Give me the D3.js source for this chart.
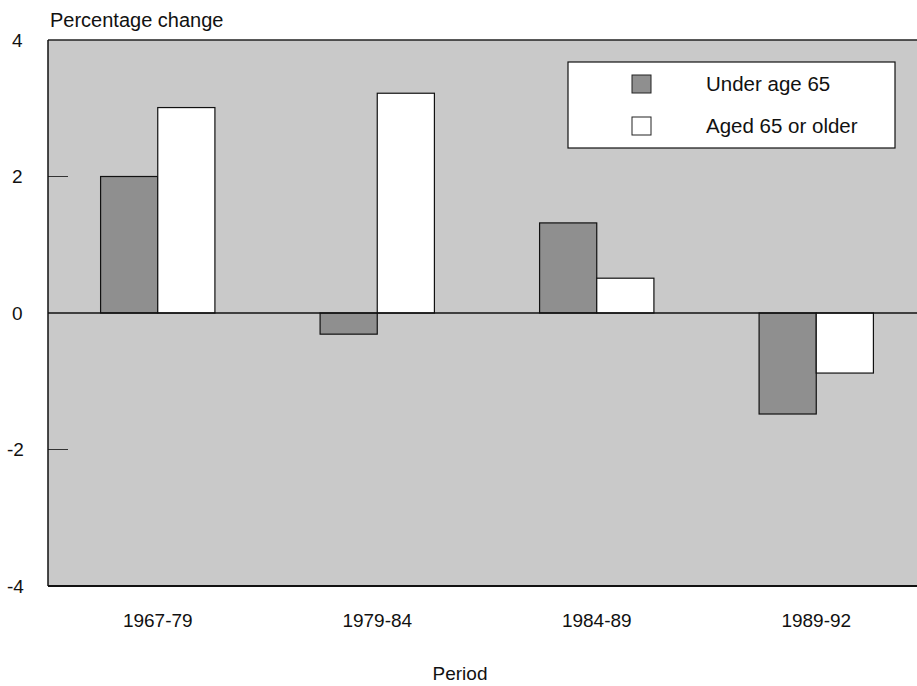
<!DOCTYPE html>
<html>
<head>
<meta charset="utf-8">
<script src="https://cdn.jsdelivr.net/npm/d3@7"></script>
<style>
  body { margin: 0; background: #fff; }
  svg { display: block; font-family: Arial, "Liberation Sans", sans-serif; }
</style>
</head>
<body>
<svg id="chart" width="917" height="686"></svg>
<script>
const categories = ["1967-79", "1979-84", "1984-89", "1989-92"];
const seriesNames = ["Under age 65", "Aged 65 or older"];
const underAge65 = [2.0, -0.31, 1.32, -1.48];
const aged65Plus = [3.01, 3.22, 0.51, -0.88];
const yTicks = [4, 2, 0, -2, -4];

const svg = d3.select("#chart");
const W = 917;
const x0 = 48, x1 = 926, yTop = 40, yBot = 586;

const x = d3.scaleBand().domain(categories).range([x0, x1]).paddingInner(0).paddingOuter(0);
const y = d3.scaleLinear().domain([-4, 4]).range([yBot, yTop]);
const sub = d3.scaleBand().domain(seriesNames).range([0, x.bandwidth()]).paddingInner(0).paddingOuter(0.92);

const colors = { "Under age 65": "#8f8f8f", "Aged 65 or older": "#ffffff" };

// plot background
svg.append("rect").attr("x", x0).attr("y", yTop).attr("width", W - x0).attr("height", yBot - yTop)
  .attr("fill", "#c9c9c9");

// short inner ticks
svg.append("g").selectAll("line").data(yTicks.filter(d => d !== 0 && Math.abs(d) !== 4)).join("line")
  .attr("x1", x0).attr("x2", x0 + 20).attr("y1", d => y(d)).attr("y2", d => y(d))
  .attr("stroke", "#333").attr("stroke-width", 1);

// bars
const data = [];
categories.forEach((c, i) => {
  data.push({ cat: c, series: seriesNames[0], v: underAge65[i] });
  data.push({ cat: c, series: seriesNames[1], v: aged65Plus[i] });
});
svg.append("g").selectAll("rect").data(data).join("rect")
  .attr("x", d => x(d.cat) + sub(d.series))
  .attr("width", sub.bandwidth())
  .attr("y", d => y(Math.max(0, d.v)))
  .attr("height", d => Math.abs(y(d.v) - y(0)))
  .attr("fill", d => colors[d.series])
  .attr("stroke", "#111").attr("stroke-width", 1.2);

// zero line
svg.append("line").attr("x1", x0).attr("x2", W).attr("y1", y(0)).attr("y2", y(0))
  .attr("stroke", "#111").attr("stroke-width", 1.5);

// frame
svg.append("line").attr("x1", x0).attr("x2", W).attr("y1", yTop).attr("y2", yTop).attr("stroke", "#222").attr("stroke-width", 1.5);
svg.append("line").attr("x1", x0).attr("x2", x0).attr("y1", yTop).attr("y2", yBot).attr("stroke", "#111").attr("stroke-width", 1.5);
svg.append("line").attr("x1", x0).attr("x2", W).attr("y1", yBot).attr("y2", yBot).attr("stroke", "#111").attr("stroke-width", 2);

// y tick labels
svg.append("g").selectAll("text").data(yTicks).join("text")
  .attr("x", d => d < 0 ? 7 : 12).attr("y", d => y(d)).attr("dy", "0.36em")
  .attr("font-size", 19).attr("fill", "#111")
  .text(d => d);

// y title
svg.append("text").attr("x", 50).attr("y", 27).attr("font-size", 20).attr("fill", "#111").text("Percentage change");

// x axis labels
svg.append("g").selectAll("text").data(categories).join("text")
  .attr("x", d => x(d) + x.bandwidth() / 2).attr("y", 627)
  .attr("text-anchor", "middle").attr("font-size", 19).attr("fill", "#111")
  .text(d => d);

svg.append("text").attr("x", 460).attr("y", 680).attr("text-anchor", "middle")
  .attr("font-size", 19).attr("fill", "#111").text("Period");

// legend
const lg = svg.append("g");
lg.append("rect").attr("x", 568).attr("y", 62).attr("width", 327).attr("height", 86)
  .attr("fill", "#fff").attr("stroke", "#111").attr("stroke-width", 1.2);
seriesNames.forEach((s, i) => {
  const cy = 84 + i * 42;
  lg.append("rect").attr("x", 632).attr("y", cy - 9).attr("width", 19).attr("height", 18)
    .attr("fill", colors[s]).attr("stroke", "#222").attr("stroke-width", 1);
  lg.append("text").attr("x", 706).attr("y", cy).attr("dy", "0.36em")
    .attr("font-size", 20.5).attr("fill", "#111").text(s);
});
</script>
</body>
</html>
